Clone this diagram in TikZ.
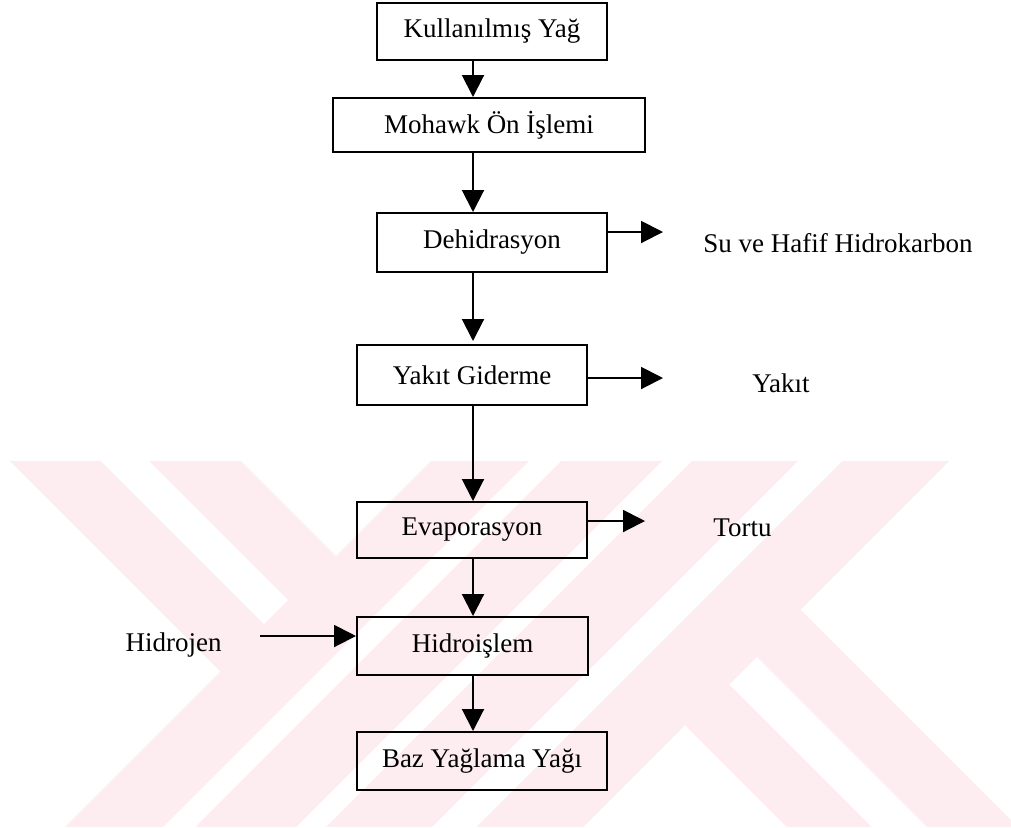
\documentclass[tikz,border=0pt]{standalone}
\usepackage{fontspec}
\setmainfont{Liberation Serif}
\usetikzlibrary{arrows.meta}
\definecolor{wmpink}{RGB}{253,236,240}

\tikzset{
  pbox/.style n args={2}{draw, line width=1pt, inner sep=0pt,
    minimum width=#1*0.5pt, minimum height=#2*0.5pt},
  lbl/.style={inner sep=0pt},
  arr/.style={line width=1pt, -{Triangle[length=11pt,width=11pt]}}
}

\begin{document}
\begin{tikzpicture}[x=0.5pt, y=-0.5pt, font=\fontsize{13.5pt}{16pt}\selectfont]
\useasboundingbox (0,0) rectangle (1011,827);
\fill[white] (0,0) rectangle (1011,827);

% background stripe pattern in pale pink
\begin{scope}
  \clip (0,461) rectangle (1011,826);
  \fill[wmpink] (-225.5,225.5) -- (220.5,671.5) -- (336,556) -- (-110,110) -- cycle;
  \fill[wmpink] (-54,946) -- (946,-54) -- (1061.5,61.5) -- (61.5,1061.5) -- cycle;
  \fill[wmpink] (76.5,1076.5) -- (1076.5,76.5) -- (1205,205) -- (205,1205) -- cycle;
  \fill[wmpink] (685,725) -- (800.5,609.5) -- (1595.5,1404.5) -- (1480,1520) -- cycle;
  \fill[white] (-180,180) -- (264,624) -- (288,600) -- (-156,156) -- cycle;
  \fill[white] (-5,995) -- (995,-5) -- (1011,11) -- (11,1011) -- cycle;
  \fill[white] (129.5,1129.5) -- (1129.5,129.5) -- (1151.5,151.5) -- (151.5,1151.5) -- cycle;
  \fill[white] (729.5,684.5) -- (757,657) -- (1550,1450) -- (1522.5,1477.5) -- cycle;
\end{scope}

% process boxes
\node[pbox={230}{57}] (kul) at (492,31.5) {Kullanılmış Yağ};
\node[pbox={312}{54}] (moh) at (489,125) {Mohawk Ön İşlemi};
\node[pbox={230}{59}] (deh) at (492,242.5) {Dehidrasyon};
\node[pbox={230}{60}] (yak) at (472,375) {Yakıt Giderme};
\node[pbox={230}{56}] (eva) at (472,530) {Evaporasyon};
\node[pbox={231}{58}] (hid) at (472.5,646) {Hidroişlem};
\node[pbox={250}{58}] (baz) at (482,761) {Baz Yağlama Yağı};

% side streams
\node[lbl, anchor=west] (su) at (703,243) {Su ve Hafif Hidrokarbon};
\node[lbl, anchor=west] (yakit) at (752,383) {Yakıt};
\node[lbl, anchor=west] (tortu) at (713,528) {Tortu};
\node[lbl, anchor=east] (hidrojen) at (222,645) {Hidrojen};

% main flow line
\coordinate (spine) at (473,0);
\draw[arr] (kul.south -| spine) -- (moh.north -| spine);
\draw[arr] (moh.south -| spine) -- (deh.north -| spine);
\draw[arr, shorten >=1.5pt] (deh.south -| spine) -- (yak.north -| spine);
\draw[arr] (yak.south -| spine) -- (eva.north -| spine);
\draw[arr] (eva.south -| spine) -- (hid.north -| spine);
\draw[arr] (hid.south -| spine) -- (baz.north -| spine);

% branch arrows
\coordinate (suTip) at (663,232);
\coordinate (yakTip) at (663,378);
\coordinate (torTip) at (645,521);
\coordinate (h2Start) at (260,636);
\draw[arr] (deh.east |- suTip) -- (suTip);
\draw[arr] (yak.east |- yakTip) -- (yakTip);
\draw[arr] (eva.east |- torTip) -- (torTip);
\draw[arr] (h2Start) -- (hid.west |- h2Start);
\end{tikzpicture}
\end{document}
